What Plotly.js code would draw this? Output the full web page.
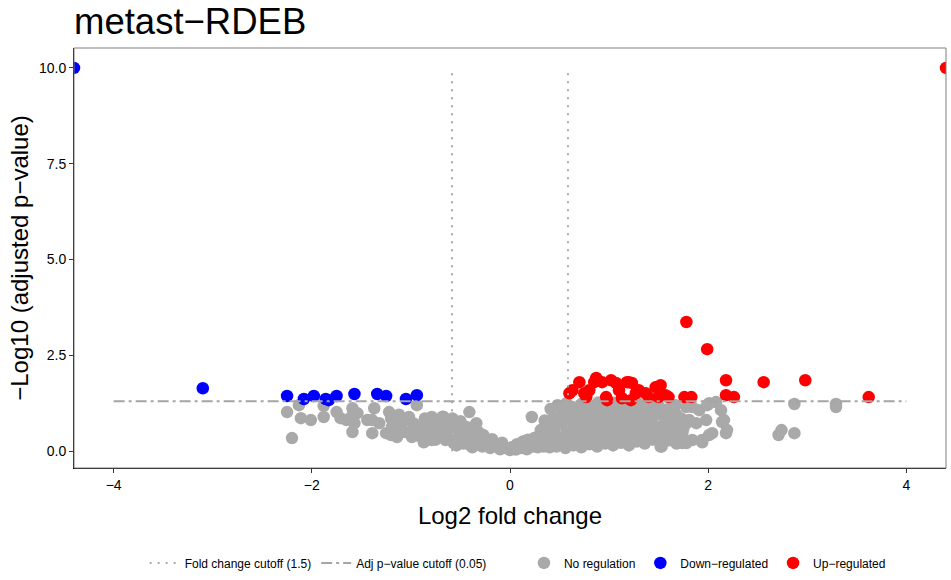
<!DOCTYPE html>
<html>
<head>
<meta charset="utf-8">
<script src="https://cdn.plot.ly/plotly-3.0.1.min.js"></script>
<style>html,body{margin:0;padding:0;background:#ffffff;}</style>
</head>
<body>
<div id="chart" style="width:951px;height:580px;"></div>
<script>
// ---------- data ----------
const chartTitle = 'metast\u2212RDEB';
const xAxisTitle = 'Log2 fold change';
const yAxisTitle = '\u2212Log10 (adjusted p\u2212value)';
const foldChangeCutoff = 1.5;      // shown as log2 fold change lines
const pValueCutoff = 0.05;         // shown as -log10 p line
const cutoffLineYSpan = [0, 9.97];
const cutoffLineXSpan = [-4, 4];
const xTickVals = [-4, -2, 0, 2, 4];
const yTickVals = [0, 2.5, 5, 7.5, 10];
const legendNames = ['Fold change cutoff (1.5)', 'Adj p\u2212value cutoff (0.05)', 'No regulation', 'Down\u2212regulated', 'Up\u2212regulated'];

// [log2 fold change, -log10 adjusted p]
const noRegulation = [
  [-2.25,1.02],[-2.20,0.34],[-2.13,1.20],[-2.11,0.86],[-2.01,0.81],[-1.88,0.89],[-1.88,1.18],
  [-1.75,1.02],[-1.71,0.86],[-1.65,0.81],[-1.59,1.12],[-1.54,0.99],[-1.59,0.50],[-1.60,0.89],
  [-1.57,0.73],[-1.44,0.81],[-1.37,1.12],[-1.39,0.47],[-1.22,1.02],[-1.39,0.81],[-1.32,0.73],
  [-1.25,0.47],[-1.19,0.63],[-1.14,0.37],[-1.09,0.73],[-1.02,0.89],[-0.94,1.20],[-0.99,0.37],
  [-0.89,0.47],[-0.84,0.81],[-0.79,0.89],[-0.72,0.47],[-0.67,0.89],[-0.62,0.73],[-0.57,0.21],
  [-0.51,0.37],[-0.41,1.02],[-0.44,0.63],[-0.34,0.73],[-0.38,0.10],[-0.54,0.15],[-0.65,0.29],
  [-0.79,0.29],[-0.87,0.23],
  [-1.20,0.42],[-1.20,0.85],[-1.13,0.55],[-1.12,0.95],[-1.06,0.50],[-1.05,0.82],[-0.98,0.55],
  [-0.97,0.72],[-0.92,0.40],[-0.90,0.62],[-0.86,0.85],[-0.82,0.40],[-0.80,0.62],[-0.75,0.30],
  [-0.74,0.75],[-0.70,0.55],[-0.68,0.90],[-0.64,0.40],[-0.60,0.60],[-0.58,0.85],[-0.55,0.30],
  [-0.52,0.55],[-0.50,0.78],[-0.47,0.20],[-0.46,0.45],
  [-0.40,0.15],[-0.40,0.38],[-0.38,0.60],[-0.33,0.28],[-0.32,0.50],[-0.28,0.12],[-0.27,0.42],
  [-0.23,0.25],[-0.20,0.08],[-0.18,0.31],[-0.14,0.16],[-0.10,0.05],[-0.08,0.22],[-0.04,0.08],
  [0.00,0.03],[0.02,0.10],[0.06,0.04],[0.07,0.18],[0.11,0.08],[0.13,0.25],[0.17,0.05],[0.18,0.30],
  [0.22,0.89],[0.23,0.12],[0.25,0.35],[0.28,0.10],[0.30,0.30],[0.31,0.55],[0.34,0.12],[0.35,0.80],
  [0.36,0.40],[0.38,0.62],[0.40,0.10],[0.41,1.10],[0.42,0.30],[0.43,0.85],[0.45,0.55],[0.47,0.12],
  [0.48,1.20],[0.49,0.35],[0.50,0.75],[0.52,1.00],
  [0.56,0.08],[0.56,0.32],[0.57,0.55],[0.55,0.80],[0.56,1.05],[0.57,1.25],
  [0.64,0.15],[0.63,0.40],[0.65,0.65],[0.64,0.90],[0.63,1.15],
  [0.72,0.10],[0.71,0.30],[0.73,0.55],[0.72,0.78],[0.71,1.02],[0.73,1.25],
  [0.80,0.18],[0.81,0.45],[0.79,0.68],[0.80,0.92],[0.81,1.15],
  [0.88,0.12],[0.87,0.35],[0.89,0.60],[0.88,0.85],[0.87,1.10],[0.89,1.27],
  [0.96,0.20],[0.97,0.45],[0.95,0.70],[0.96,0.95],[0.97,1.20],
  [1.04,0.15],[1.03,0.38],[1.05,0.62],[1.04,0.86],[1.03,1.10],[1.05,1.26],
  [1.12,0.22],[1.13,0.50],[1.11,0.75],[1.12,1.00],[1.13,1.22],
  [1.20,0.15],[1.19,0.40],[1.21,0.65],[1.20,0.90],[1.19,1.15],
  [1.28,0.25],[1.29,0.50],[1.27,0.78],[1.28,1.02],[1.29,1.25],
  [1.36,0.20],[1.35,0.42],[1.37,0.68],[1.36,0.92],[1.35,1.18],
  [1.44,0.30],[1.45,0.55],[1.43,0.80],[1.44,1.05],[1.45,1.24],
  [1.52,0.12],[1.51,0.40],[1.53,0.65],[1.52,0.95],[1.51,1.15],
  [1.60,0.28],[1.61,0.55],[1.59,0.80],[1.60,1.10],
  [1.68,0.20],[1.67,0.45],[1.69,0.70],[1.68,0.95],[1.67,1.20],
  [1.74,0.30],[1.75,0.60],[1.73,0.85],
  [1.53,0.12],[1.74,0.21],[1.94,0.29],[1.84,0.29],[1.50,0.47],[1.63,0.63],[1.74,0.47],[1.81,0.81],
  [1.47,1.25],[1.43,0.89],[1.57,1.07],[1.84,1.15],[1.91,1.07],[1.99,1.20],[2.08,1.28],[2.13,1.07],
  [2.16,0.81],[2.19,0.55],[2.04,0.47],[1.98,0.81],[1.78,1.15],[2.01,1.25],[2.14,0.76],[1.78,0.73],
  [1.88,0.73],[2.01,0.42],[1.94,0.23],[2.18,0.47],[2.71,0.42],[2.74,0.55],[2.87,0.47],[2.87,1.23],
  [3.29,1.23],[3.29,1.15],[1.78,0.21]
];

const downRegulated = [
  [-4.40,10.00],[-3.10,1.64],[-2.25,1.44],[-2.08,1.36],[-1.98,1.44],[-1.86,1.36],[-1.83,1.33],
  [-1.75,1.44],[-1.57,1.49],[-1.34,1.49],[-1.25,1.44],[-1.05,1.36],[-0.94,1.46]
];

const upRegulated = [
  [1.78,3.37],[1.99,2.66],[2.18,1.85],[2.56,1.80],[2.98,1.85],[3.62,1.41],[4.40,10.00],
  [2.18,1.46],[2.26,1.41],[0.70,1.80],[0.85,1.80],[1.02,1.85],[1.20,1.80],[0.80,1.59],
  [0.97,1.41],[1.10,1.59],[1.27,1.51],[1.47,1.67],[1.52,1.72],[1.50,1.41],[1.60,1.41],
  [1.76,1.41],[1.83,1.41],[0.77,1.41],[0.60,1.51],[0.63,1.59],[0.75,1.51],[0.87,1.91],
  [0.93,1.80],[1.07,1.78],[1.18,1.80],[1.23,1.78],[1.30,1.59],[1.37,1.51],[1.48,1.67],
  [0.98,1.33],[1.13,1.38],[1.22,1.33],[1.40,1.41],[1.57,1.46]
];

// ---------- build ----------
const FONT = 'Liberation Sans, Arial, Helvetica, sans-serif';
const fcLine = Math.log2(foldChangeCutoff);
const pLine = -Math.log10(pValueCutoff);
const xs = a => a.map(p => p[0]);
const ys = a => a.map(p => p[1]);

const markerTrace = (pts, name, color) => ({
  type: 'scatter', mode: 'markers', name: name, legend: 'legend2',
  x: xs(pts), y: ys(pts),
  marker: {size: 12.5, color: color, line: {width: 0}},
  hoverinfo: 'skip', cliponaxis: true
});

const traces = [
  markerTrace(noRegulation, legendNames[2], '#A9A9A9'),
  markerTrace(downRegulated, legendNames[3], '#0000FF'),
  markerTrace(upRegulated, legendNames[4], '#FF0000'),
  {
    type: 'scatter', mode: 'lines', name: legendNames[0], legend: 'legend',
    x: [-fcLine, -fcLine, null, fcLine, fcLine],
    y: [cutoffLineYSpan[0], cutoffLineYSpan[1], null, cutoffLineYSpan[0], cutoffLineYSpan[1]],
    line: {color: '#ABABAB', width: 2, dash: '2px,6px'}, hoverinfo: 'skip'
  },
  {
    type: 'scatter', mode: 'lines', name: legendNames[1], legend: 'legend',
    x: cutoffLineXSpan, y: [pLine, pLine],
    line: {color: '#A5A5A5', width: 2, dash: '11px,4px,3px,4px'}, hoverinfo: 'skip'
  }
];

const layout = {
  width: 951, height: 580,
  paper_bgcolor: '#ffffff', plot_bgcolor: '#ffffff',
  margin: {l: 74, r: 5, t: 48, b: 112, autoexpand: false},
  font: {family: FONT, color: '#000000'},
  title: {
    text: chartTitle, font: {family: FONT, size: 36.5, color: '#000000'},
    xref: 'paper', x: 0, xanchor: 'left', yref: 'container', y: 0.964, yanchor: 'middle'
  },
  xaxis: {
    range: [-4.4, 4.4], tickvals: xTickVals, ticks: 'outside', ticklen: 4, tickwidth: 1,
    tickcolor: '#333333', showline: true, linecolor: '#000000', linewidth: 1,
    showgrid: false, zeroline: false, tickfont: {family: FONT, size: 14, color: '#000000'},
    title: {text: xAxisTitle, font: {family: FONT, size: 24, color: '#000000'}, standoff: 15},
    automargin: false
  },
  yaxis: {
    range: [-0.44, 10.52], tickvals: yTickVals, tickformat: '.1f', ticks: 'outside', ticklen: 4,
    tickwidth: 1, tickcolor: '#333333', showline: true, linecolor: '#000000', linewidth: 1,
    showgrid: false, zeroline: false, tickfont: {family: FONT, size: 14, color: '#000000'},
    title: {text: yAxisTitle, font: {family: FONT, size: 24, color: '#000000'}, standoff: 3},
    automargin: false
  },
  shapes: [{
    type: 'rect', xref: 'paper', yref: 'paper', x0: 0, x1: 1, y0: 0, y1: 1,
    line: {color: '#7F7F7F', width: 1}, fillcolor: 'rgba(0,0,0,0)', layer: 'above'
  }],
  legend: {
    orientation: 'h', x: 0.081, xanchor: 'left', y: -0.226, yanchor: 'middle',
    font: {family: FONT, size: 12, color: '#000000'}, bgcolor: 'rgba(0,0,0,0)', traceorder: 'normal'
  },
  legend2: {
    orientation: 'h', x: 0.516, xanchor: 'left', y: -0.226, yanchor: 'middle',
    font: {family: FONT, size: 12, color: '#000000'}, bgcolor: 'rgba(0,0,0,0)', traceorder: 'normal'
  },
  showlegend: true
};

Plotly.newPlot('chart', traces, layout, {displayModeBar: false, staticPlot: true});
</script>
</body>
</html>
